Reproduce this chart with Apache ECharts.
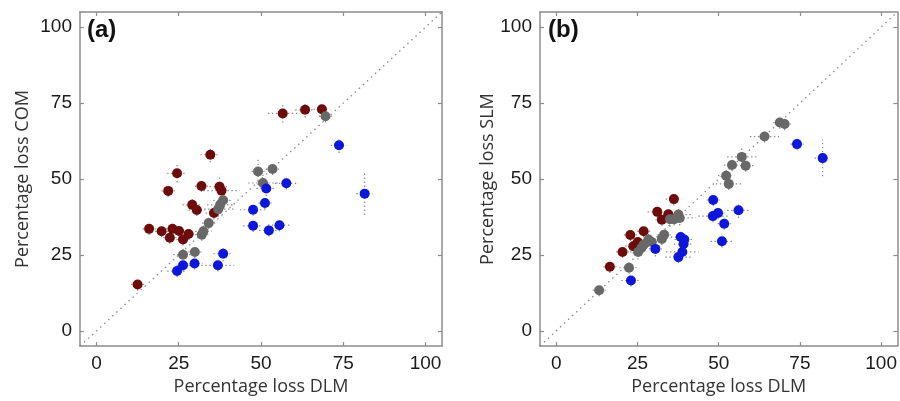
<!DOCTYPE html>
<html><head><meta charset="utf-8">
<script src="https://cdn.jsdelivr.net/npm/echarts@6/dist/echarts.min.js"></script>
<style>html,body{margin:0;padding:0;background:#fff}#c{width:900px;height:401px}</style>
</head><body><div id="c"></div>
<script>
// rows: [DLM %, other %, x error, y error]
const aMaroon = [
  [12.5,15.3,2,2],[16.0,33.6,2,2],[19.8,32.8,2,2],[22.3,30.7,2,2],[23.1,33.6,2,2],
  [25.1,32.9,2,2],[26.3,30.1,2,2],[28.0,31.9,2.5,2],[21.8,46.1,2,2],[24.5,51.9,3,3],
  [29.1,41.5,3,2.5],[30.5,39.8,2.5,2],[31.9,47.7,2,2],[34.6,58.0,3,2.5],[35.7,38.8,2.5,2],
  [37.4,47.5,3,4],[38.0,46.2,5.5,2],[56.6,71.6,4.5,3],[63.4,72.8,3,2.5],[68.5,73.0,2.5,2]
];
const aGrey = [
  [26.3,25.1,3,2.5],[29.9,26.0,2,2],[32.0,31.7,2,2],[32.5,32.8,2.5,2.5],[34.1,35.5,2,2],
  [37.0,40.1,5.5,2.5],[37.6,41.5,4,3],[38.5,43.0,3,3],[49.1,52.5,2,4.5],[50.6,48.7,4.5,3],
  [53.5,53.3,2,2],[69.6,70.7,2,2]
];
const aBlue = [
  [24.5,19.7,3,2],[26.3,21.6,2,2],[29.8,22.2,2.5,2],[36.9,21.6,5,2],[38.5,25.4,3,2.5],
  [47.6,39.9,4,2],[47.6,34.6,3,2],[51.2,42.1,2,2],[51.6,46.9,3,2.5],[52.4,33.1,3,2],
  [55.6,34.8,3.5,2],[57.7,48.6,3.5,2],[73.7,61.1,2.5,2.5],[81.5,45.2,2.5,7]
];
const bGrey = [
  [13.2,13.4,2,2],[22.4,20.8,3,2],[25.2,26.0,2.5,2.5],[26.2,27.3,2.5,2.5],[26.9,28.4,2,2],
  [28.4,30.1,3,2.5],[29.4,29.3,2.5,2],[32.5,30.3,2.5,2],[33.2,31.7,2,2],[35.0,36.8,3,2.5],
  [36.3,36.8,3,2],[37.6,38.3,4,2.5],[38.0,37.2,5,2.5],[52.3,51.1,2.5,2.5],[53.1,48.4,4,2],
  [54.1,54.6,2.5,2],[57.1,57.3,4.5,3],[58.3,54.4,3,2],[64.1,64.0,4.5,2],[68.8,68.6,2,2],
  [70.3,68.1,2,2]
];
const bMaroon = [
  [16.5,21.1,2,2],[20.4,26.0,2,2],[22.8,31.6,2,2],[23.7,27.9,2.5,2.5],[25.1,29.3,2,2],
  [26.9,32.8,2,2],[31.1,39.2,3,2],[32.5,36.6,2,2],[34.5,38.4,2.5,2],[36.2,43.4,2.5,2]
];
const bBlue = [
  [23.0,16.6,3,2],[30.5,27.0,2,2.5],[37.6,24.3,4,2],[38.3,30.9,3,2],[38.8,26.0,5,2],
  [39.2,28.6,3,2],[39.4,30.1,3,2],[48.3,43.1,2,2],[48.2,37.8,4.5,2],[49.8,38.8,2,2],
  [51.7,35.3,2,2],[51.0,29.5,3.5,2],[56.1,39.7,3.5,2.5],[74.1,61.5,2,2],[82.0,56.9,2.5,6]
];
const tickValues = [0,25,50,75,100];
const axisRange = [-5,105];
const diagonal = [[-5,-5],[105,105]];
const xTitle = 'Percentage loss DLM';
const yTitles = ['Percentage loss COM','Percentage loss SLM'];
const panelLabels = ['(a)','(b)'];

const C_MAROON = '#6d0b0b', C_BLUE = '#0c17d9', C_GREY = '#686868';
const frame = '#8c8c8c';

function errRender(params, api) {
  const x = api.value(0), y = api.value(1), xe = api.value(2), ye = api.value(3);
  const l = api.coord([x - xe, y]), r = api.coord([x + xe, y]);
  const b = api.coord([x, y - ye]), t = api.coord([x, y + ye]);
  const style = {stroke:'#888', lineWidth:1.2, lineDash:[1.4,2.6], fill:null};
  return {type:'group', children:[
    {type:'line', shape:{x1:l[0],y1:l[1],x2:r[0],y2:r[1]}, style:style},
    {type:'line', shape:{x1:b[0],y1:b[1],x2:t[0],y2:t[1]}, style:style}
  ]};
}

const grids = [
  {left:80, top:12, width:362, height:335},
  {left:540, top:12, width:362, height:335}
];
const xAxes = [], yAxes = [], series = [];
[0,1].forEach(i => {
  const base = {type:'value', min:axisRange[0], max:axisRange[1], gridIndex:i,
    splitLine:{show:false},
    axisLine:{show:true, onZero:false, lineStyle:{color:frame, width:1.5}},
    axisTick:{show:true, inside:true, length:4, lineStyle:{color:frame, width:1.2},
      customValues:tickValues},
  };
  xAxes.push(Object.assign({}, base, {position:'bottom',
    axisLabel:{show:true, customValues:tickValues, margin:8, color:'#1a1a1a',
      fontFamily:'Liberation Sans', fontSize:19},
    name:xTitle, nameLocation:'middle', nameGap:29,
    nameTextStyle:{fontFamily:'Open Sans', fontSize:18, color:'#333'}}));
  xAxes.push(Object.assign({}, base, {position:'top', axisLabel:{show:false}}));
  yAxes.push(Object.assign({}, base, {position:'left',
    axisLabel:{show:true, customValues:tickValues, margin:8, color:'#1a1a1a',
      fontFamily:'Liberation Sans', fontSize:19},
    name:yTitles[i], nameLocation:'middle', nameGap: i===0 ? 48 : 43,
    nameTextStyle:{fontFamily:'Open Sans', fontSize:18, color:'#333'}}));
  yAxes.push(Object.assign({}, base, {position:'right', axisLabel:{show:false}}));

  series.push({type:'line', xAxisIndex:2*i, yAxisIndex:2*i, data:diagonal, symbol:'none',
    silent:true, lineStyle:{color:'#8a8a8a', width:1.3, type:[1.5,4]}, z:1});
  const groups = i===0 ? [[aMaroon,C_MAROON],[aGrey,C_GREY],[aBlue,C_BLUE]]
                       : [[bMaroon,C_MAROON],[bGrey,C_GREY],[bBlue,C_BLUE]];
  groups.forEach(g => {
    series.push({type:'custom', xAxisIndex:2*i, yAxisIndex:2*i, data:g[0],
      renderItem:errRender, encode:{x:0,y:1}, z:2, silent:true});
  });
  groups.forEach(g => {
    series.push({type:'scatter', xAxisIndex:2*i, yAxisIndex:2*i, data:g[0].map(r => [r[0], r[1]]),
      symbolSize:10, itemStyle:{color:g[1], opacity:1}, z:3});
  });
});

const chart = echarts.init(document.getElementById('c'));
chart.setOption({
  animation:false,
  grid:grids, xAxis:xAxes, yAxis:yAxes, series:series,
  graphic:[
    {type:'text', left:87, top:18, style:{text:panelLabels[0], font:'bold 24px "Liberation Sans"', fill:'#111'}},
    {type:'text', left:548, top:18, style:{text:panelLabels[1], font:'bold 24px "Liberation Sans"', fill:'#111'}}
  ]
});
</script></body></html>
